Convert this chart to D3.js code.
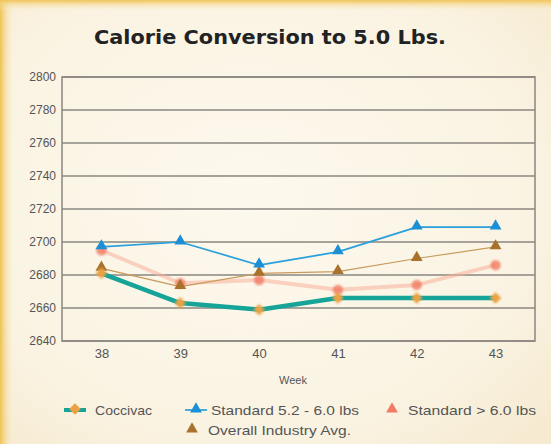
<!DOCTYPE html>
<html lang="en">
<head>
<meta charset="utf-8">
<title>Calorie Conversion to 5.0 Lbs.</title>
<script src="https://cdn.jsdelivr.net/npm/d3@7"></script>
<style>
  body { margin: 0; background: #fbf5e7; }
  svg { display: block; }
</style>
</head>
<body>
<script>
// data
var weeks = [38, 39, 40, 41, 42, 43];
var coccivac = [2681, 2663, 2659, 2666, 2666, 2666];
var std52 = [2697, 2700, 2686, 2694, 2709, 2709];
var stdOver6 = [2695, 2675, 2677, 2671, 2674, 2686];
var industry = [2684, 2673, 2681, 2682, 2690, 2697];
var yTicks = [2640, 2660, 2680, 2700, 2720, 2740, 2760, 2780, 2800];

var w = 551, h = 444;
var margin = {top: 77, right: 16, bottom: 103, left: 62};

var svg = d3.select("body").append("svg")
  .attr("width", w)
  .attr("height", h);

var defs = svg.append("defs");

// parchment background
var bg = defs.append("radialGradient").attr("id", "paper").attr("cx", "45%").attr("cy", "45%").attr("r", "75%");
bg.append("stop").attr("offset", "0%").attr("stop-color", "#fdf9ee");
bg.append("stop").attr("offset", "70%").attr("stop-color", "#faf3e2");
bg.append("stop").attr("offset", "100%").attr("stop-color", "#f6ead0");

var leftEdge = defs.append("linearGradient").attr("id", "leftEdge");
leftEdge.append("stop").attr("offset", "0%").attr("stop-color", "#efc252");
leftEdge.append("stop").attr("offset", "100%").attr("stop-color", "#fbf0d2").attr("stop-opacity", 0);

var topEdge = defs.append("linearGradient").attr("id", "topEdge").attr("x2", 0).attr("y2", 1);
topEdge.append("stop").attr("offset", "0%").attr("stop-color", "#f0c458");
topEdge.append("stop").attr("offset", "100%").attr("stop-color", "#fbf0d2").attr("stop-opacity", 0);

defs.append("filter").attr("id", "soft")
  .append("feGaussianBlur").attr("stdDeviation", 0.6);
defs.append("filter").attr("id", "softer")
  .append("feGaussianBlur").attr("stdDeviation", 1.1);

svg.append("rect").attr("width", w).attr("height", h).attr("fill", "url(#paper)");
svg.append("rect").attr("width", 14).attr("height", h).attr("fill", "url(#leftEdge)");
svg.append("rect").attr("width", w).attr("height", 11).attr("fill", "url(#topEdge)");

// title
svg.append("text")
  .attr("x", 270)
  .attr("y", 44)
  .attr("text-anchor", "middle")
  .attr("font-family", "DejaVu Sans, sans-serif")
  .attr("font-weight", "bold")
  .attr("font-size", 20)
  .attr("fill", "#222")
  .attr("textLength", 352)
  .attr("lengthAdjust", "spacingAndGlyphs")
  .text("Calorie Conversion to 5.0 Lbs.");

var x = d3.scalePoint()
  .domain(weeks)
  .range([margin.left, w - margin.right])
  .padding(0.5);

var y = d3.scaleLinear()
  .domain([2640, 2800])
  .range([h - margin.bottom, margin.top]);

// gridlines
svg.append("g")
  .selectAll("line")
  .data(yTicks)
  .enter()
  .append("line")
  .attr("x1", margin.left)
  .attr("x2", w - margin.right)
  .attr("y1", function(d) { return y(d); })
  .attr("y2", function(d) { return y(d); })
  .attr("stroke", "#8a8780")
  .attr("stroke-width", 1.5);

// frame
svg.append("rect")
  .attr("x", margin.left)
  .attr("y", margin.top)
  .attr("width", w - margin.left - margin.right)
  .attr("height", h - margin.top - margin.bottom)
  .attr("fill", "none")
  .attr("stroke", "#8a8780")
  .attr("stroke-width", 1.5);

// y axis labels
var yAxis = svg.append("g")
  .attr("transform", "translate(" + (margin.left - 6) + ",0)")
  .call(d3.axisLeft(y).tickValues(yTicks).tickSize(0).tickPadding(0).tickFormat(d3.format("d")));
yAxis.select(".domain").remove();
yAxis.selectAll("text")
  .attr("font-family", "Liberation Sans Narrow, Liberation Sans, sans-serif")
  .attr("font-size", 12)
  .attr("fill", "#555");

// x axis labels
var xAxis = svg.append("g")
  .attr("transform", "translate(0," + (h - margin.bottom + 8) + ")")
  .call(d3.axisBottom(x).tickSize(0).tickPadding(0));
xAxis.select(".domain").remove();
xAxis.selectAll("text")
  .attr("font-family", "Liberation Sans, sans-serif")
  .attr("font-size", 13)
  .attr("fill", "#555");

svg.append("text")
  .attr("x", 293)
  .attr("y", 384)
  .attr("text-anchor", "middle")
  .attr("font-family", "Liberation Sans Narrow, Liberation Sans, sans-serif")
  .attr("font-size", 11)
  .attr("fill", "#555")
  .text("Week");

var line = d3.line()
  .x(function(d, i) { return x(weeks[i]); })
  .y(function(d) { return y(d); });

var series = [
  {name: "Standard > 6.0 lbs", values: stdOver6, color: "#f7b09a", width: 4, opacity: 0.55, marker: "circle", mcolor: "#f27a62"},
  {name: "Overall Industry Avg.", values: industry, color: "#c89a5c", width: 1.2, opacity: 1, marker: "triangle", mcolor: "#a8722a"},
  {name: "Standard 5.2 - 6.0 lbs", values: std52, color: "#2a9fdc", width: 1.7, opacity: 1, marker: "triangle", mcolor: "#1b8fd6"},
  {name: "Coccivac", values: coccivac, color: "#17a398", width: 4.5, opacity: 1, marker: "diamond", mcolor: "#eba244"}
];

series.forEach(function(s) {
  svg.append("path")
    .datum(s.values)
    .attr("d", line)
    .attr("fill", "none")
    .attr("stroke", s.color)
    .attr("stroke-width", s.width)
    .attr("stroke-opacity", s.opacity)
    .attr("stroke-linejoin", "round")
    .attr("filter", "url(#soft)");
});

function markerPath(kind, size) {
  if (kind === "triangle") return d3.symbol().type(d3.symbolTriangle).size(size)();
  if (kind === "diamond") return d3.symbol().type(d3.symbolDiamond2).size(size)();
  return d3.symbol().type(d3.symbolCircle).size(size)();
}

series.forEach(function(s) {
  svg.append("g")
    .selectAll("path")
    .data(s.values)
    .enter()
    .append("path")
    .attr("transform", function(d, i) { return "translate(" + x(weeks[i]) + "," + (y(d) + (s.marker === "triangle" ? -1 : 0)) + ")"; })
    .attr("d", markerPath(s.marker, s.marker === "triangle" ? 60 : 85))
    .attr("fill", s.mcolor)
    .attr("opacity", s.marker === "circle" ? 0.8 : 1)
    .attr("filter", s.marker === "triangle" ? "url(#soft)" : "url(#softer)");
});

// legend
var legendItems = [
  {name: "Coccivac", color: "#17a398", mcolor: "#eba244", marker: "diamond", lx: 64, tx: 95, y: 410, len: 57, line: true},
  {name: "Standard 5.2 - 6.0 lbs", color: "#2a9fdc", mcolor: "#1b8fd6", marker: "triangle", lx: 185, tx: 211, y: 410, len: 148, line: true},
  {name: "Standard > 6.0 lbs", color: "#f7b09a", mcolor: "#f27a62", marker: "triangle", lx: 385, tx: 408, y: 410, len: 128, line: false},
  {name: "Overall Industry Avg.", color: "#c89a5c", mcolor: "#a8722a", marker: "triangle", lx: 185, tx: 208, y: 430, len: 143, line: false}
];

var lg = svg.append("g");
legendItems.forEach(function(d) {
  if (d.line) {
    lg.append("line")
      .attr("x1", d.lx).attr("x2", d.lx + 22)
      .attr("y1", d.y).attr("y2", d.y)
      .attr("stroke", d.color)
      .attr("stroke-width", d.marker === "diamond" ? 4 : 1.7);
  }
  lg.append("path")
    .attr("transform", "translate(" + (d.lx + (d.line ? 11 : 7)) + "," + (d.y - 1) + ")")
    .attr("d", markerPath(d.marker, d.marker === "triangle" ? 60 : 85))
    .attr("fill", d.mcolor)
    .attr("filter", "url(#soft)");
  lg.append("text")
    .attr("x", d.tx)
    .attr("y", d.y + 5)
    .attr("font-family", "Liberation Sans Narrow, Liberation Sans, sans-serif")
    .attr("font-size", 13)
    .attr("fill", "#555")
    .attr("textLength", d.len)
    .attr("lengthAdjust", "spacingAndGlyphs")
    .text(d.name);
});
</script>
</body>
</html>
